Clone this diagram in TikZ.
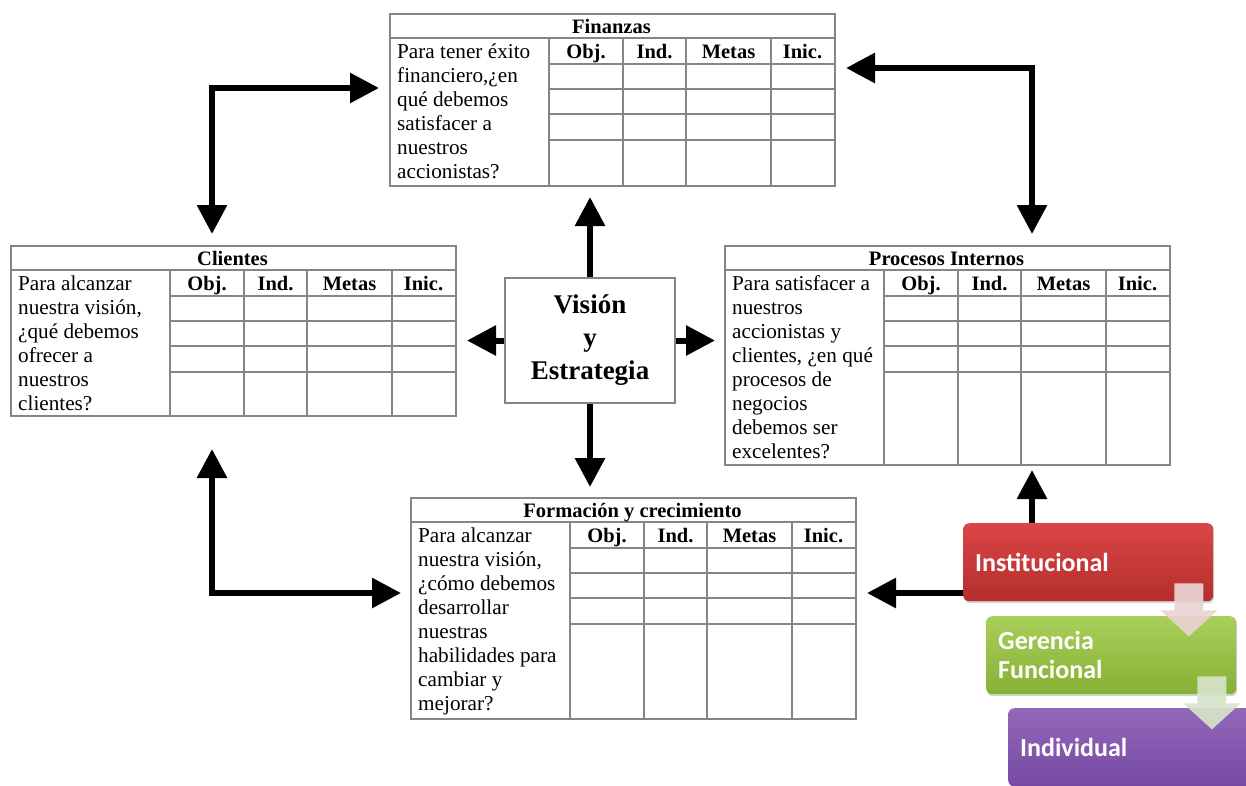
\documentclass[tikz,border=0pt]{standalone}
\usepackage{fontspec}
\setmainfont{Liberation Serif}
\newfontfamily\boxfont{Carlito}
\usepackage{tikz}
\usetikzlibrary{calc,positioning,arrows.meta,shadows}

\definecolor{gridgray}{HTML}{858585}
\definecolor{instTop}{HTML}{DA4646}
\definecolor{instBot}{HTML}{B52D2D}
\definecolor{gerTop}{HTML}{A9CF5A}
\definecolor{gerBot}{HTML}{86B034}
\definecolor{indTop}{HTML}{9268BA}
\definecolor{indBot}{HTML}{7649A3}
\definecolor{paleRed}{HTML}{EAD3D3}
\definecolor{paleGreen}{HTML}{D7E3CA}

\begin{document}
\begin{tikzpicture}[x=1pt,y=-1pt]
\tikzstyle{grid}=[draw=gridgray,line width=1.3pt]
\tikzstyle{outer}=[draw=gridgray,line width=2pt,inner sep=0pt,minimum width=445pt,anchor=north west]
\tikzstyle{hdr}=[font=\fontsize{20.5}{24}\selectfont\bfseries,anchor=base,inner sep=0pt]
\tikzstyle{qtext}=[font=\fontsize{21.2}{24}\selectfont,align=left,anchor=north west,inner sep=0pt]
\tikzstyle{arr}=[line width=6pt,-{Triangle[length=29pt,width=29pt]}]
\tikzstyle{darr}=[line width=6pt,{Triangle[length=29pt,width=29pt]}-{Triangle[length=29pt,width=29pt]}]
\tikzstyle{level}=[rounded corners=6pt,minimum height=78pt,text width=226pt,inner xsep=12pt,
  anchor=north west,align=left,text=white,font=\boxfont\fontsize{26}{29}\selectfont\bfseries,
  drop shadow={shadow xshift=1pt,shadow yshift=-2pt,opacity=0.35}]

\useasboundingbox (0,0) rectangle (1246,785);

% the four perspectives
\foreach \nm/\x/\y/\h/\ttl/\q in {
  fin/389/13/172/Finanzas/{Para tener éxito\\financiero,¿en\\qué debemos\\satisfacer a\\nuestros\\accionistas?},
  cli/10/245/170/Clientes/{Para alcanzar\\nuestra visión,\\¿qué debemos\\ofrecer a\\nuestros\\clientes?},
  pro/724/245/219/Procesos Internos/{Para satisfacer a\\nuestros\\accionistas y\\clientes, ¿en qué\\procesos de\\negocios\\debemos ser\\excelentes?},
  form/410/497/221/Formación y crecimiento/{Para alcanzar\\nuestra visión,\\¿cómo debemos\\desarrollar\\nuestras\\habilidades para\\cambiar y\\mejorar?}} {
  \node[outer,minimum height=\h pt,fill=white] (\nm) at (\x,\y) {};
  \begin{scope}[shift={(\nm.north west)}]
    \draw[grid] (0,25) -- (445,25);
    \foreach \r in {51,76,101,127}
      \draw[grid] (160,\r) -- (445,\r);
    \foreach \c in {160,234,297,382}
      \draw[grid] (\c,25) -- (\c,\h);
    \node[hdr] (\nm-t) at (222.5,20) {\ttl};
    \foreach \c/\lab [count=\k] in {197/Obj.,265.5/Ind.,339.5/Metas,413.5/Inic.}
      \node[hdr] (\nm-h\k) at (\c,45) {\lab};
    \node[qtext] (\nm-q) at (8,30.5) {\q};
  \end{scope}
}

% centre
\node[draw=gridgray,line width=1.2pt,minimum width=170pt,minimum height=125pt,
  font=\fontsize{27}{33}\selectfont\bfseries,align=center] (vis) at (590,340.5) {Visión\\y\\Estrategia};

\draw[arr] (vis.north) -- ($(vis.north |- fin.south)+(0,10)$);
\draw[arr] (vis.south) -- ($(vis.south |- form.north)+(0,-10)$);
\draw[arr] (vis.west) -- ($(vis.west -| cli.east)+(10,0)$);
\draw[arr] (vis.east) -- ($(vis.east -| pro.west)+(-9,0)$);

% links between perspectives
\coordinate (c-fc) at (212,88);
\coordinate (c-fp) at (1032,68);
\coordinate (c-cf) at (212,593);
\coordinate (c-pf) at (1032,593);
\draw[darr] ($(c-fc -| fin.west)+(-10,0)$) -- (c-fc) -- ($(c-fc |- cli.north)+(0,-11)$);
\draw[darr] ($(c-fp -| fin.east)+(10,0)$) -- (c-fp) -- ($(c-fp |- pro.north)+(0,-11)$);
\draw[darr] ($(c-cf |- cli.south)+(0,32)$) -- (c-cf) -- ($(c-cf -| form.west)+(-9,0)$);
\draw[darr] ($(c-pf |- pro.south)+(0,4)$) -- (c-pf) -- ($(c-pf -| form.east)+(10,0)$);

% levels
\node[level,top color=instTop,bottom color=instBot] (inst) at (963,523) {Institucional};
\node[level,top color=gerTop,bottom color=gerBot] (ger) at (986,616) {Gerencia\\Funcional};
\node[level,top color=indTop,bottom color=indBot] (ind) at (1008,708) {Individual};

\foreach \a/\col in {inst/paleRed,ger/paleGreen}
  \fill[\col,opacity=0.92,shift={(\a.south east)}] (-39,-18) -- (-10,-18) -- (-10,9) -- (4,9)
    -- (-24.5,35) -- (-53,9) -- (-39,9) -- cycle;
\end{tikzpicture}
\end{document}
